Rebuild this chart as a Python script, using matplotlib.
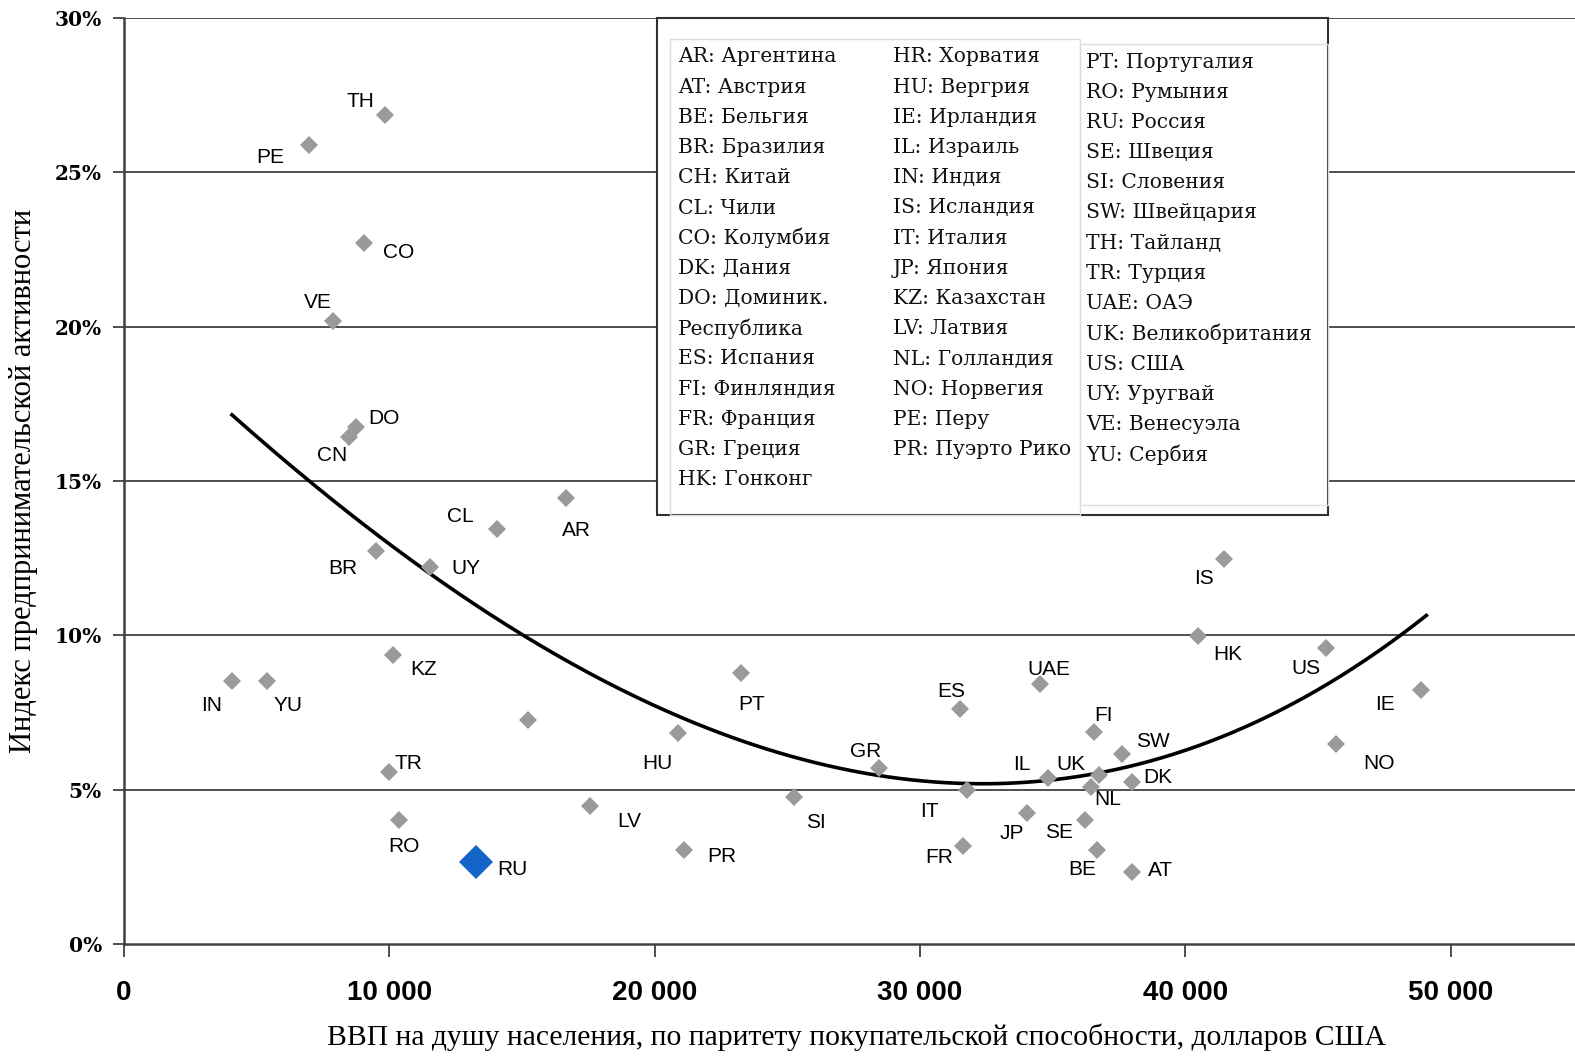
import numpy as np
import matplotlib

matplotlib.use("Agg")
import matplotlib.pyplot as plt  # noqa: E402
from matplotlib.patches import Rectangle  # noqa: E402

# country code, GDP per capita (PPP, USD), entrepreneurial activity index (%)
codes = ["TH", "PE", "CO", "VE", "DO", "CN", "CL", "AR", "BR", "UY",
         "KZ", "IN", "YU", "", "TR", "RO", "LV", "HU", "PR", "PT",
         "SI", "GR", "ES", "IT", "FR", "UAE", "IL", "JP", "FI", "UK",
         "NL", "SE", "BE", "SW", "DK", "AT", "IS", "HK", "US", "IE", "NO"]
gdp = [9840, 6970, 9050, 7880, 8750, 8480, 14060, 16660, 9500, 11530,
       10140, 4070, 5390, 15230, 9990, 10370, 17570, 20880, 21110, 23260,
       25250, 28460, 31510, 31780, 31630, 34530, 34830, 34040, 36560, 36750,
       36450, 36220, 36680, 37620, 38000, 38000, 41460, 40480, 45310, 48890, 45680]
index = [26.85, 25.88, 22.71, 20.18, 16.75, 16.42, 13.44, 14.45, 12.73, 12.21,
         9.36, 8.52, 8.52, 7.26, 5.57, 4.02, 4.47, 6.84, 3.05, 8.78,
         4.76, 5.70, 7.61, 4.99, 3.17, 8.42, 5.38, 4.24, 6.87, 5.47,
         5.09, 4.02, 3.05, 6.15, 5.25, 2.33, 12.47, 9.98, 9.59, 8.23, 6.48]

ru_code = "RU"
ru_gdp = 13270
ru_index = 2.66

legend_cols = [
    ["AR: Аргентина", "AT: Австрия", "BE: Бельгия", "BR: Бразилия", "CH: Китай",
     "CL: Чили", "CO: Колумбия", "DK: Дания", "DO: Доминик.", "Республика",
     "ES: Испания", "FI: Финляндия", "FR: Франция", "GR: Греция", "HK: Гонконг"],
    ["HR: Хорватия", "HU: Вергрия", "IE: Ирландия", "IL: Израиль", "IN: Индия",
     "IS: Исландия", "IT: Италия", "JP: Япония", "KZ: Казахстан", "LV: Латвия",
     "NL: Голландия", "NO: Норвегия", "PE: Перу", "PR: Пуэрто Рико"],
    ["PT: Португалия", "RO: Румыния", "RU: Россия", "SE: Швеция", "SI: Словения",
     "SW: Швейцария", "TH: Тайланд", "TR: Турция", "UAE: ОАЭ", "UK: Великобритания",
     "US: США", "UY: Уругвай", "VE: Венесуэла", "YU: Сербия"],
]

xticks = [0, 10000, 20000, 30000, 40000, 50000]
xtick_labels = ["0", "10 000", "20 000", "30 000", "40 000", "50 000"]
yticks = [0, 5, 10, 15, 20, 25, 30]

# label offsets from each point, in pixels (dx right, dy down)
offsets = {
    "TH": (-25, -14), "PE": (-39, 12), "CO": (35, 9), "VE": (-15, -19),
    "DO": (28, -8), "CN": (-17, 18), "CL": (-37, -13), "AR": (10, 33),
    "BR": (-33, 17), "UY": (36, 1), "KZ": (31, 14), "IN": (-20, 24),
    "YU": (21, 24), "TR": (19, -9), "RO": (5, 27), "RU": (36, 8),
    "LV": (39, 15), "HU": (-21, 31), "PR": (38, 7), "PT": (11, 32),
    "SI": (22, 25), "GR": (-13, -17), "ES": (-9, -18), "IT": (-38, 22),
    "FR": (-24, 11), "UAE": (9, -15), "IL": (-26, -13), "JP": (-15, 20),
    "FI": (10, -16), "UK": (-28, -11), "NL": (17, 13), "SE": (-26, 13),
    "BE": (-15, 20), "SW": (31, -13), "DK": (26, -4), "AT": (28, -2),
    "IS": (-20, 19), "HK": (30, 19), "US": (-20, 21), "IE": (-36, 15),
    "NO": (43, 20),
}

W, H = 1575, 1057
fig = plt.figure(figsize=(W / 100, H / 100), dpi=100)
ax = fig.add_axes([124 / W, (H - 944) / H, 1 - 124 / W, (944 - 18) / H])

ax.set_xlim(0, (W - 124) / 265.3 * 10000)
ax.set_ylim(0, 30)

for y in yticks[1:]:
    ax.axhline(y, color="#404040", lw=1.3, zorder=1)

# polynomial trend line fitted to all the points
all_x = np.array(gdp + [ru_gdp], dtype=float)
all_y = np.array(index + [ru_index], dtype=float)
coef = np.polyfit(all_x, all_y, 3)
xs = np.linspace(all_x.min(), all_x.max() + 200, 300)
ax.plot(xs, np.polyval(coef, xs), color="black", lw=2.6, zorder=3)

ax.plot(gdp, index, linestyle="none", marker="D", markersize=9,
        color="#9a9a9a", markeredgewidth=0, zorder=4)
ax.plot([ru_gdp], [ru_index], linestyle="none", marker="D", markersize=17,
        color="#1464c8", markeredgewidth=0, zorder=4)

for c, x, y in zip(codes + [ru_code], gdp + [ru_gdp], index + [ru_index]):
    if not c:
        continue
    dx, dy = offsets[c]
    ax.annotate(c, (x, y), xytext=(dx, -dy), textcoords="offset pixels",
                ha="center", va="center", fontsize=15,
                family="Liberation Sans", color="black", zorder=5)

ax.spines["top"].set_visible(False)
ax.spines["right"].set_visible(False)
for s in ("left", "bottom"):
    ax.spines[s].set_color("#404040")
    ax.spines[s].set_linewidth(1.8)

ax.set_xticks(xticks)
ax.set_xticklabels(xtick_labels, family="Liberation Sans",
                   fontweight="bold", fontsize=20)
ax.set_yticks(yticks)
ax.set_yticklabels([f"{v}%" for v in yticks], family="DejaVu Serif",
                   fontweight="bold", fontsize=14.5)
ax.tick_params(axis="x", direction="out", length=9, width=1.3, color="#404040", pad=17)
ax.tick_params(axis="y", direction="out", length=8, width=1.3, color="#404040", pad=8)

fig.text(24 / W, 1 - 481 / H, "Индекс предпринимательской активности",
         rotation=90, ha="center", va="center", fontsize=22,
         family="Liberation Serif")
fig.text(856 / W, 1 - 1037 / H,
         "ВВП на душу населения, по паритету покупательской способности, долларов США",
         ha="center", va="center", fontsize=21.3, family="Liberation Serif")

# legend box
fig.patches.append(Rectangle((657 / W, 1 - 515 / H), 671 / W, 497 / H,
                             transform=fig.transFigure, facecolor="white",
                             edgecolor="#303030", lw=1.5, zorder=6))
fig.patches.append(Rectangle((670 / W, 1 - 515 / H), 410 / W, 476 / H,
                             transform=fig.transFigure, facecolor="none",
                             edgecolor="#dddddd", lw=1, zorder=7))
fig.patches.append(Rectangle((1080 / W, 1 - 505 / H), 248 / W, 461 / H,
                             transform=fig.transFigure, facecolor="none",
                             edgecolor="#dddddd", lw=1, zorder=7))
col_x = [678, 893, 1086]
col_y0 = [57, 57, 62]
step = 30.2
for cx, cy, items in zip(col_x, col_y0, legend_cols):
    for i, t in enumerate(items):
        fig.text(cx / W, 1 - (cy + i * step) / H, t, ha="left", va="center",
                 fontsize=14.6, family="DejaVu Serif", color="#111111", zorder=8)

fig.savefig("out.png", dpi=100)
